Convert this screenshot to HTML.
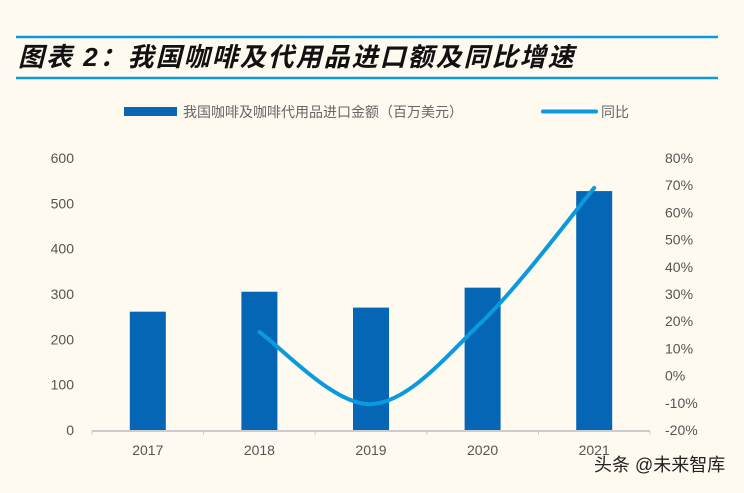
<!DOCTYPE html>
<html><head><meta charset="utf-8">
<style>
html,body{margin:0;padding:0;background:#fffaf0;}
body{width:744px;height:488px;overflow:hidden;font-family:"Liberation Sans","Noto Sans CJK SC",sans-serif;}
</style></head>
<body>
<svg id="chart" width="744" height="488" xmlns="http://www.w3.org/2000/svg">
<rect width="744" height="488" fill="#fffaf0"/>
<line x1="16" y1="37" x2="718" y2="37" stroke="#0a9ae0" stroke-width="2.5"/>
<line x1="16" y1="78" x2="718" y2="78" stroke="#0a9ae0" stroke-width="2.5"/>
<text x="18" y="66" font-size="26" font-weight="bold" font-style="italic" fill="#111" letter-spacing="2" font-family="'Liberation Sans','Noto Sans CJK SC',sans-serif">图表 2：我国咖啡及代用品进口额及同比增速</text>
<rect x="124" y="107" width="53" height="9" fill="#0466b4"/>
<text x="183" y="117" font-size="14" fill="#666">我国咖啡及咖啡代用品进口金额（百万美元）</text>
<line x1="543" y1="111.5" x2="596" y2="111.5" stroke="#0a9ae0" stroke-width="4" stroke-linecap="round"/>
<text x="601" y="117" font-size="14" fill="#666">同比</text>
<g id="plot"></g>
<text x="594" y="471" font-size="18" fill="#222">头条 @未来智库</text>
</svg>
<script>
const categories=["2017","2018","2019","2020","2021"];
const amounts=[261,305,270,314,527];
const growth=[null,16,-10.5,20,69];
const leftTicks=[0,100,200,300,400,500,600];
const rightTicks=[-20,-10,0,10,20,30,40,50,60,70,80];
const NS="http://www.w3.org/2000/svg";
const g=document.getElementById('plot');
const x0=92,x1=650,yBase=430,yTop=158;
const yL=v=>yBase-(v/600)*(yBase-yTop);
const yR=v=>yBase-((v+20)/100)*(yBase-yTop);
const band=(x1-x0)/categories.length;
const xc=i=>x0+band*(i+0.5);
function mk(t,a){const e=document.createElementNS(NS,t);for(const k in a)e.setAttribute(k,a[k]);g.appendChild(e);return e;}
leftTicks.forEach(v=>{const t=mk('text',{x:74,y:yL(v)+5,'font-size':14,fill:'#555','text-anchor':'end'});

t.textContent=v;});
rightTicks.forEach(v=>{const t=mk('text',{x:665,y:yR(v)+5,'font-size':14,fill:'#555'});

t.textContent=v+'%';});
amounts.forEach((v,i)=>{const r=mk('rect',{x:xc(i)-18,y:yL(v),width:36,height:yBase-yL(v),fill:'#0466b4'});

});
const ax=mk('line',{x1:x0,y1:yBase+1,x2:x1,y2:yBase+1,stroke:'#ccc','stroke-width':2});


for(let i=0;i<=categories.length;i++){const tk=mk('line',{x1:x0+band*i,y1:yBase+1,x2:x0+band*i,y2:yBase+5,stroke:'#ccc','stroke-width':1});

}
categories.forEach((c,i)=>{const t=mk('text',{x:xc(i),y:455,'font-size':14,fill:'#555','text-anchor':'middle'});

t.textContent=c;});
const pts=[];growth.forEach((v,i)=>{if(v!==null)pts.push([xc(i),yR(v)]);});
let d='M'+pts[0][0]+','+pts[0][1];
for(let i=0;i<pts.length-1;i++){const p0=pts[i-1]||pts[i],p1=pts[i],p2=pts[i+1],p3=pts[i+2]||p2;
const c1=[p1[0]+(p2[0]-p0[0])/6,p1[1]+(p2[1]-p0[1])/6],c2=[p2[0]-(p3[0]-p1[0])/6,p2[1]-(p3[1]-p1[1])/6];
d+=' C'+c1+' '+c2+' '+p2;}
const ln=mk('path',{d:d,fill:'none',stroke:'#0a9ae0','stroke-width':4,'stroke-linecap':'round'});


</script>
</body></html>
